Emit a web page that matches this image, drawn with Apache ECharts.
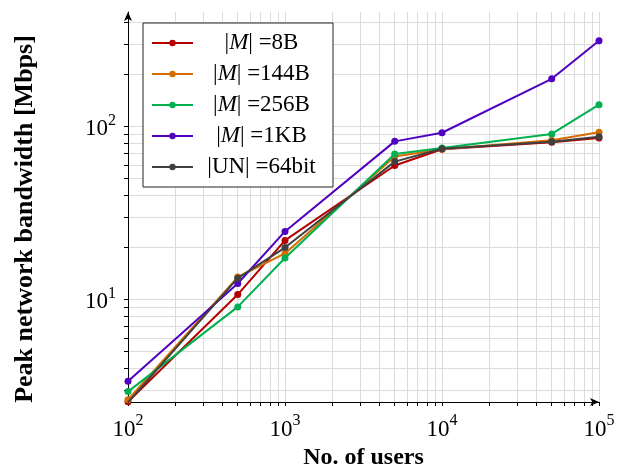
<!DOCTYPE html>
<html>
<head>
<meta charset="utf-8">
<script src="https://cdn.jsdelivr.net/npm/echarts@6/dist/echarts.min.js"></script>
<style>html,body{margin:0;padding:0;background:#fff}#c{width:621px;height:466px}</style>
</head>
<body>
<div id="c"></div>
<script>
const users = [100, 500, 1000, 5000, 10000, 50000, 100000];
const m8   = [2.57, 10.7, 22.0, 59.6, 74.0, 81.2, 86.1];
const m144 = [2.64, 13.5, 18.5, 67.3, 74.0, 83.4, 92.7];
const m256 = [2.94, 9.08, 17.4, 69.5, 75.3, 90.8, 134];
const m1k  = [3.37, 12.4, 24.8, 82.2, 92.2, 189, 314];
const un64 = [2.55, 13.3, 20.0, 62.8, 74.5, 81.8, 87.5];
const names = ['|M| =8B', '|M| =144B', '|M| =256B', '|M| =1KB', '|UN| =64bit'];
const colors = ['#b40000', '#d46c00', '#00b050', '#5000c0', '#404040'];
const xLabelVals = [100, 1000, 10000, 100000];
const yLabelVals = [10, 100];

function minorVals(lo, hi) {
  const out = [];
  for (let p = lo; p <= hi; p++) {
    for (let k = 1; k <= 9; k++) out.push(k * Math.pow(10, p));
  }
  return out;
}
const xTickVals = minorVals(2, 5).filter(v => v <= 100000);
const yTickVals = minorVals(0, 2).filter(v => v >= 2.56 && v <= 460);

const serif = 'Liberation Serif';
function supLabel(v) {
  return '{b|10}{s|' + Math.round(Math.log10(v)) + '}';
}
const labelRich = {
  b: { fontFamily: serif, fontSize: 23, color: '#000', lineHeight: 28, verticalAlign: 'bottom' },
  s: { fontFamily: serif, fontSize: 16, color: '#000', verticalAlign: 'top' }
};
function legendFmt(name) {
  const m = name.match(/^\|(\w+)\|(.*)$/);
  const inner = m[1] === 'M' ? '{i|M}' : '{t|' + m[1] + '}';
  return '{t||}' + inner + '{t||' + m[2] + '}';
}
const seriesData = [m8, m144, m256, m1k, un64];
const chart = echarts.init(document.getElementById('c'));
chart.setOption({
  animation: false,
  backgroundColor: '#fff',
  grid: { left: 128, right: 22, top: 12, bottom: 64, containLabel: false, outerBoundsMode: 'none' },
  xAxis: {
    type: 'log', logBase: 10, min: 100, max: 100000,
    name: 'No. of users', nameLocation: 'middle', nameGap: 42,
    nameTextStyle: { fontFamily: serif, fontSize: 24, fontWeight: 'bold', color: '#000' },
    axisLine: { lineStyle: { color: '#000', width: 1 }, symbol: ['none', 'arrow'], symbolSize: [6, 9] },
    axisTick: { show: true, inside: false, length: 4, lineStyle: { color: '#000' }, customValues: xTickVals },
    axisLabel: { customValues: xLabelVals, formatter: supLabel, rich: labelRich, margin: 11 },
    splitLine: { show: true, lineStyle: { color: '#dcdcdc', width: 1 } }
  },
  yAxis: {
    type: 'log', logBase: 10, min: 2.56, max: 460,
    name: 'Peak network bandwidth [Mbps]', nameLocation: 'middle', nameGap: 90,
    nameTextStyle: { fontFamily: serif, fontSize: 26, fontWeight: 'bold', color: '#000', padding: [0, 24, 0, 0] },
    axisLine: { lineStyle: { color: '#000', width: 1 }, symbol: ['none', 'arrow'], symbolSize: [6, 9] },
    axisTick: { show: true, inside: false, length: 4, lineStyle: { color: '#000' }, customValues: yTickVals },
    axisLabel: { customValues: yLabelVals, formatter: supLabel, rich: labelRich, margin: 12 },
    splitLine: { show: true, lineStyle: { color: '#dcdcdc', width: 1 } }
  },
  legend: {
    orient: 'vertical', left: 143, top: 23,
    backgroundColor: '#fff', borderColor: '#222', borderWidth: 1,
    padding: [8, 8, 8, 8], itemGap: 7, itemWidth: 41, itemHeight: 8,
    textStyle: { width: 127, lineHeight: 24, fontFamily: serif, fontSize: 23, color: '#000',
      rich: {
        t: { fontFamily: serif, fontSize: 23, color: '#000', align: 'center' },
        i: { fontFamily: serif, fontSize: 23, fontStyle: 'italic', color: '#000', align: 'center' }
      } },
    formatter: legendFmt,
    data: names
  },
  series: seriesData.map((arr, i) => ({
    name: names[i], type: 'line',
    data: users.map((u, j) => [u, arr[j]]),
    symbol: 'circle', symbolSize: 7,
    lineStyle: { color: colors[i], width: 2 },
    itemStyle: { color: colors[i] },
    z: 2 + i
  }))
});
</script>
</body>
</html>
